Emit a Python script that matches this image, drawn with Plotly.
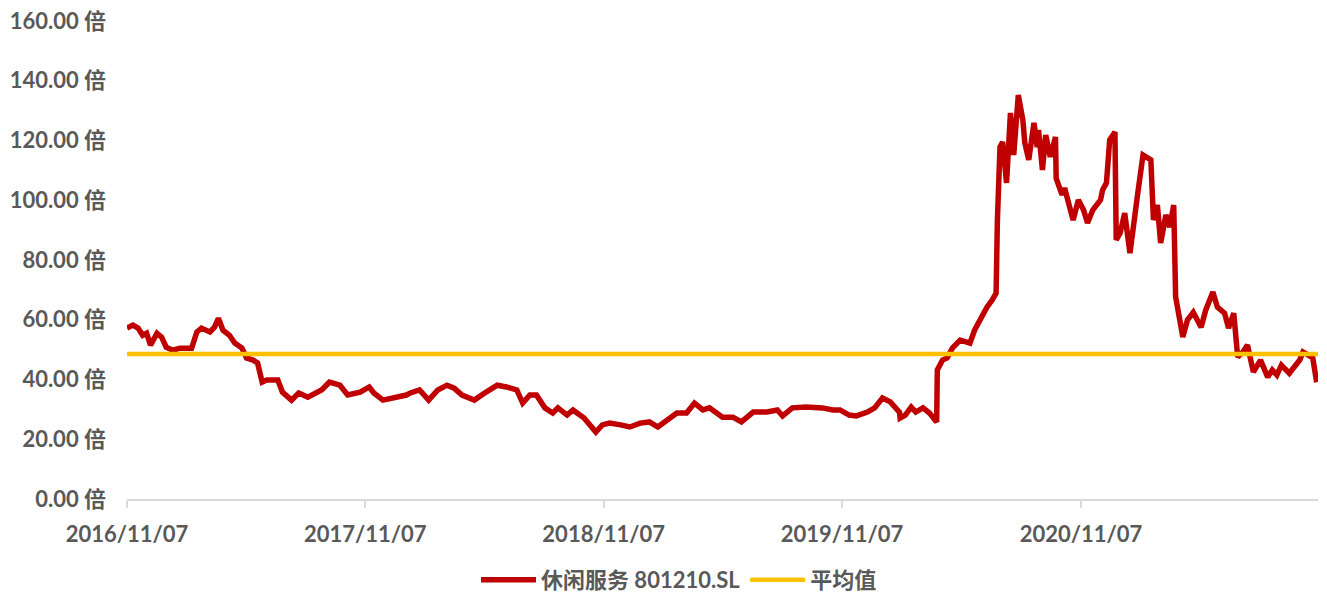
import plotly.graph_objects as go

# ---- data ----
dates = [
    "2016-11-07", "2016-11-16", "2016-11-24", "2016-12-01", "2016-12-07", "2016-12-13",
    "2016-12-23", "2016-12-30", "2017-01-06", "2017-01-16", "2017-01-27", "2017-02-14",
    "2017-02-22", "2017-03-01", "2017-03-14", "2017-03-21", "2017-03-27", "2017-04-03",
    "2017-04-13", "2017-04-21", "2017-05-02", "2017-05-09", "2017-05-19", "2017-05-26",
    "2017-06-02", "2017-06-09", "2017-06-26", "2017-07-03", "2017-07-17", "2017-07-28",
    "2017-08-11", "2017-08-25", "2017-09-01", "2017-09-13", "2017-09-29", "2017-10-11",
    "2017-10-30", "2017-11-13", "2017-11-20", "2017-12-04", "2017-12-29", "2018-01-09",
    "2018-01-15", "2018-01-25", "2018-01-29", "2018-02-12", "2018-02-26", "2018-03-12",
    "2018-03-23", "2018-04-04", "2018-04-23", "2018-05-11", "2018-05-28", "2018-06-11",
    "2018-06-27", "2018-07-06", "2018-07-17", "2018-07-27", "2018-08-09", "2018-08-21",
    "2018-08-29", "2018-09-12", "2018-09-21", "2018-10-08", "2018-10-15", "2018-10-26",
    "2018-11-05", "2018-11-16", "2018-12-03", "2018-12-17", "2019-01-02", "2019-01-16",
    "2019-01-29", "2019-02-12", "2019-02-27", "2019-03-14", "2019-03-26", "2019-04-08",
    "2019-04-18", "2019-05-08", "2019-05-24", "2019-06-06", "2019-06-24", "2019-07-15",
    "2019-07-31", "2019-08-08", "2019-08-23", "2019-09-13", "2019-10-08", "2019-10-24",
    "2019-11-04", "2019-11-18", "2019-11-29", "2019-12-16", "2019-12-27", "2020-01-08",
    "2020-01-20", "2020-02-03", "2020-02-04", "2020-02-12", "2020-02-21", "2020-02-28",
    "2020-03-10", "2020-03-20", "2020-03-31", "2020-04-01", "2020-04-09", "2020-04-16",
    "2020-04-24", "2020-05-06", "2020-05-13", "2020-05-21", "2020-05-28", "2020-06-05",
    "2020-06-16", "2020-06-24", "2020-06-30", "2020-07-02", "2020-07-06", "2020-07-10",
    "2020-07-16", "2020-07-22", "2020-07-27", "2020-08-03", "2020-08-10", "2020-08-13",
    "2020-08-19", "2020-08-27", "2020-09-01", "2020-09-03", "2020-09-09", "2020-09-14",
    "2020-09-21", "2020-09-29", "2020-09-30", "2020-10-09", "2020-10-13", "2020-10-19",
    "2020-10-26", "2020-11-03", "2020-11-11", "2020-11-17", "2020-11-25", "2020-12-07",
    "2020-12-10", "2020-12-16", "2020-12-21", "2020-12-29", "2020-12-31", "2021-01-06",
    "2021-01-13", "2021-01-21", "2021-01-28", "2021-02-02", "2021-02-10", "2021-02-22",
    "2021-02-26", "2021-03-04", "2021-03-09", "2021-03-17", "2021-03-23", "2021-03-29",
    "2021-04-01", "2021-04-06", "2021-04-12", "2021-04-19", "2021-04-28", "2021-05-10",
    "2021-05-17", "2021-05-28", "2021-06-04", "2021-06-15", "2021-06-21", "2021-06-29",
    "2021-07-05", "2021-07-13", "2021-07-20", "2021-07-29", "2021-08-09", "2021-08-20",
    "2021-08-27", "2021-09-03", "2021-09-10", "2021-09-22", "2021-10-08", "2021-10-13",
    "2021-10-28", "2021-11-03",
]

pe_values = [
    57.2, 58.2, 57.2, 54.8, 55.5, 51.5,
    55.5, 54.2, 50.8, 49.8, 50.5, 50.5,
    55.9, 57.2, 55.9, 57.5, 60.5, 56.5,
    54.8, 52.2, 50.5, 47.2, 46.5, 45.5,
    39.1, 39.8, 39.8, 35.8, 33.1, 35.5,
    34.1, 35.8, 36.5, 39.1, 38.1, 34.8,
    35.8, 37.5, 35.5, 33.1, 34.1, 34.8,
    35.5, 36.5, 36.5, 33.1, 36.5, 38.1,
    37.1, 34.8, 33.1, 35.8, 38.1, 37.5,
    36.5, 32.1, 34.8, 34.8, 30.5, 28.8,
    30.5, 28.1, 29.8, 27.1, 25.4, 22.4,
    24.8, 25.4, 24.8, 24.1, 25.4, 25.8,
    24.1, 26.4, 28.8, 28.8, 32.1, 29.8,
    30.5, 27.4, 27.4, 25.8, 29.1, 29.1,
    29.8, 27.8, 30.5, 30.8, 30.5, 29.8,
    29.8, 28.1, 27.8, 29.1, 30.5, 33.8,
    32.5, 29.1, 27.1, 28.1, 30.8, 29.1,
    30.5, 28.8, 25.8, 43.2, 46.5, 47.2,
    50.5, 53.2, 52.5, 52.2, 56.5, 59.9,
    64.2, 66.6, 68.9, 93.4, 117.8, 119.5,
    105.8, 129.2, 115.1, 135.2, 126.8, 119.2,
    113.5, 125.9, 117.8, 123.5, 110.1, 121.8,
    114.5, 121.2, 107.4, 101.8, 104.1, 99.1,
    93.4, 100.1, 96.7, 92.4, 96.7, 100.1,
    103.4, 105.8, 120.2, 122.8, 86.7, 89.0,
    95.7, 82.3, 92.4, 102.4, 115.1, 113.5,
    93.4, 98.4, 85.7, 95.1, 91.0, 98.4,
    67.6, 61.5, 54.2, 59.9, 62.5, 57.5,
    63.2, 69.3, 64.2, 62.2, 57.2, 62.2,
    47.5, 49.2, 51.5, 42.5, 46.5, 40.8,
    43.2, 41.5, 44.8, 42.1, 46.5, 49.2,
    47.2, 39.1,
]

average_value = 48.5
average_dates = ["2016-11-07", "2021-11-05"]
average_values = [average_value, average_value]

tick_dates = ["2016-11-07", "2017-11-07", "2018-11-07", "2019-11-07", "2020-11-07"]
tick_labels = ["2016/11/07", "2017/11/07", "2018/11/07", "2019/11/07", "2020/11/07"]

series_name = "休闲服务 801210.SL"
average_name = "平均值"

FONT = "Lato, 'Noto Sans CJK SC', sans-serif"
TEXT_COLOR = "#595959"

fig = go.Figure()
fig.add_trace(go.Scatter(
    x=dates, y=pe_values, mode="lines", name=series_name,
    line=dict(color="#C00000", width=5.5),
))
fig.add_trace(go.Scatter(
    x=average_dates, y=average_values, mode="lines", name=average_name,
    line=dict(color="#FFC000", width=4.5),
))

# The page body has an 8px default margin, so the figure is sized/offset to compensate.
fig.update_layout(
    width=1319, height=596,
    margin=dict(l=119, r=9, t=13, b=105, autoexpand=False),
    paper_bgcolor="white", plot_bgcolor="white",
    font=dict(family=FONT, size=22, color=TEXT_COLOR),
    showlegend=True,
    legend=dict(orientation="h", x=0.4635, xanchor="center", y=-0.1695, yanchor="middle",
                font=dict(family=FONT, size=22, color=TEXT_COLOR, weight="bold"),
                itemwidth=55, traceorder="normal"),
)
fig.update_xaxes(
    type="date", range=["2016-11-07", "2021-11-05"], automargin=False,
    tickvals=tick_dates, ticktext=tick_labels,
    showgrid=False, zeroline=False,
    showline=True, linecolor="#D9D9D9", linewidth=1.5,
    ticks="outside", ticklen=7, tickcolor="#D9D9D9", tickwidth=1.5,
    ticklabelstandoff=8, ticklabeloverflow="allow",
    tickfont=dict(family=FONT, size=22, color=TEXT_COLOR, weight="bold"),
)
fig.update_yaxes(
    range=[0, 160], dtick=20, tick0=0, automargin=False,
    tickformat=".2f", ticksuffix=" 倍",
    showgrid=False, zeroline=False, showline=False,
    ticks="", ticklabelstandoff=20, ticklabeloverflow="allow",
    tickfont=dict(family=FONT, size=22, color=TEXT_COLOR, weight="bold"),
)

fig.write_html("out.html")
